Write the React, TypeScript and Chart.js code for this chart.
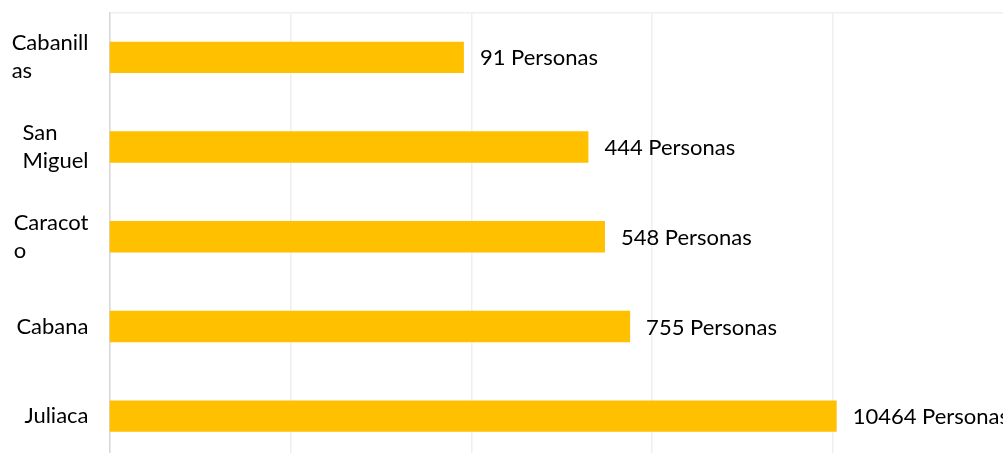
import React, { useEffect, useRef } from "react";
import { Chart, registerables } from "chart.js";

Chart.register(...registerables);

const categories: string[][] = [["Cabanill", "as"], ["San", "Miguel"], ["Caracot", "o"], ["Cabana"], ["Juliaca"]];
const values: number[] = [91, 444, 548, 755, 10464];
const valueSuffix = " Personas";
const FONT = "22px Lato, 'Open Sans', sans-serif";

const labelPlugin = {
  id: "labelPlugin",
  afterDatasetsDraw(chart: any) {
    const ctx = chart.ctx;
    const y = chart.scales.y;
    const area = chart.chartArea;
    ctx.save();
    ctx.font = FONT;
    ctx.fillStyle = "#000000";
    ctx.textBaseline = "middle";
    categories.forEach((lines, i) => {
      const cy = y.getPixelForValue(i);
      const w = Math.max(...lines.map((l) => ctx.measureText(l).width));
      const left = area.left - 21 - w;
      const lh = 28;
      const start = cy - ((lines.length - 1) * lh) / 2;
      ctx.textAlign = "left";
      lines.forEach((l, j) => ctx.fillText(l, left, start + j * lh));
    });
    const meta = chart.getDatasetMeta(0);
    meta.data.forEach((bar: any, i: number) => {
      ctx.textAlign = "left";
      ctx.fillText(values[i] + valueSuffix, bar.x + 16, bar.y + 1);
    });
    ctx.restore();
  },
};

export default function App() {
  const ref = useRef<HTMLCanvasElement | null>(null);
  useEffect(() => {
    document.body.style.overflow = "hidden";
    const chart = new Chart(ref.current as HTMLCanvasElement, {
      type: "bar",
      data: {
        labels: categories.map((c) => c.join("")),
        datasets: [
          {
            data: values,
            backgroundColor: "#FFC000",
            categoryPercentage: 1,
            barPercentage: 0.35,
          },
        ],
      },
      options: {
        indexAxis: "y",
        responsive: false,
        animation: false,
        layout: { padding: { left: 109.5, top: 12.5, right: 0, bottom: 0 } },
        plugins: { legend: { display: false }, tooltip: { enabled: false } },
        scales: {
          x: {
            type: "logarithmic",
            position: "top",
            min: 1,
            max: 100000,
            afterBuildTicks: (axis: any) => {
              axis.ticks = axis.ticks.filter((t: any) => {
                const l = Math.log10(t.value);
                return Math.abs(l - Math.round(l)) < 1e-9;
              });
            },
            ticks: { display: false },
            grid: { color: "#EFEFEF", lineWidth: 1.5, drawTicks: false },
            border: { display: true, color: "#EFEFEF", width: 1.5 },
          },
          y: {
            ticks: { display: false },
            grid: { display: false, drawTicks: false },
            border: { display: true, color: "#D9D9D9", width: 1.5 },
          },
        },
      },
      plugins: [labelPlugin],
    });
    return () => chart.destroy();
  }, []);
  return (
    <div style={{ position: "fixed", left: 0, top: 0, width: 1003, height: 453, overflow: "hidden", background: "#fff" }}>
      <canvas ref={ref} width={1014} height={461} style={{ display: "block" }} />
    </div>
  );
}
